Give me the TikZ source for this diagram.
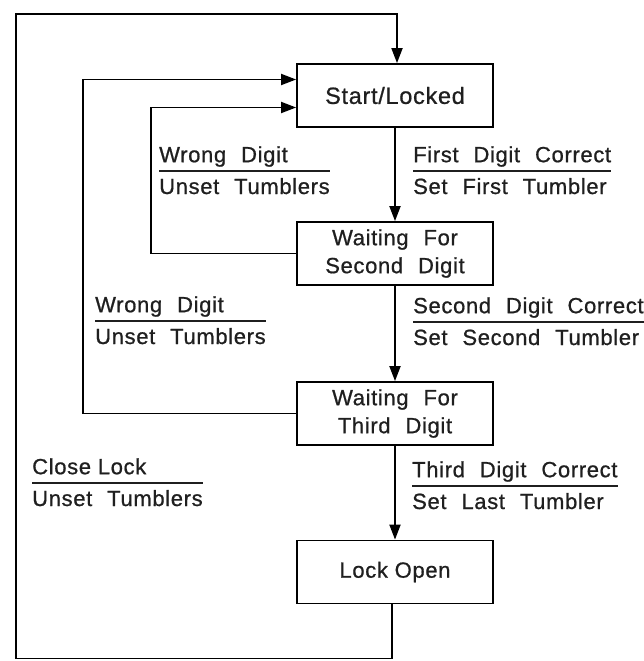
\documentclass[tikz,border=0pt]{standalone}
\usepackage{fontspec}
\setmainfont{Liberation Sans}[WordSpace=2.2, LetterSpace=3, FakeBold=0.8]
\newfontfamily\normalsp{Liberation Sans}[LetterSpace=3, FakeBold=0.8]
\usetikzlibrary{arrows.meta}
\definecolor{ink}{gray}{0.12}
\setlength{\arrayrulewidth}{1.8pt}
\newcommand\lbl[2]{{\renewcommand\arraystretch{0}\begin{tabular}[b]{@{}l@{}}\rule[-8pt]{0pt}{20pt}#1\\\hline\rule{0pt}{22pt}#2\end{tabular}}}
\begin{document}
\begin{tikzpicture}[x=1pt,y=-1pt,
  every node/.style={font=\fontsize{22}{28}\selectfont, text=ink},
  state/.style={draw=black, line width=1.8pt, minimum width=196pt, minimum height=63pt, inner sep=0pt, align=center},
  lab/.style={inner sep=0pt, anchor=base west},
  conn/.style={line width=1.8pt},
  arr/.style={conn, -{Triangle[length=15pt,width=11pt]}}]
\useasboundingbox (0,0) rectangle (643,661);
\node[state, font=\fontsize{23.5}{28}\selectfont] (s0) at (395,95.5) {Start/Locked};
\node[state] (s1) at (395,253.5) {Waiting For\\Second Digit};
\node[state] (s2) at (395,413.5) {Waiting For\\Third Digit};
\node[state, font=\fontsize{22}{28}\normalsp] (s3) at (395,572) {Lock Open};
\draw[arr] (s0) -- (s1);
\draw[arr] (s1) -- (s2);
\draw[arr] (s2) -- (s3);
\draw[arr] (s1.west) -- ++(-145,0) |- ([yshift=-12pt]s0.west);
\draw[arr] (s2.west) -- ++(-213,0) |- ([yshift=16pt]s0.west);
\draw[arr] ([xshift=-3pt]s3.south) -- ++(0,54) -| (16,14) -| ([xshift=2pt]s0.north);
\node[lab] (l1) at (159,194) {\lbl{Wrong Digit}{Unset Tumblers}};
\node[lab] (l2) at (413,194) {\lbl{First Digit Correct}{Set First Tumbler}};
\node[lab] (l3) at (95,344) {\lbl{Wrong Digit}{Unset Tumblers}};
\node[lab] (l4) at (413,345) {\lbl{Second Digit Correct}{Set Second Tumbler}};
\node[lab] (l5) at (32,506) {\lbl{{\normalsp Close Lock}}{Unset Tumblers}};
\node[lab] (l6) at (412,509) {\lbl{Third Digit Correct}{Set Last Tumbler}};
\end{tikzpicture}
\end{document}
